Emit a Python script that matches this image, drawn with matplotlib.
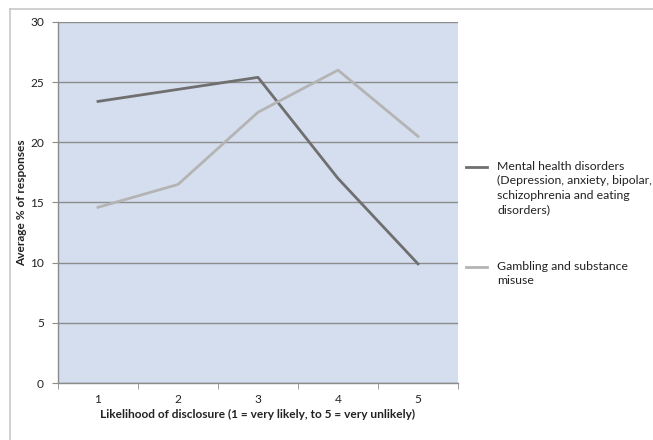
import matplotlib.pyplot as plt
from matplotlib.lines import Line2D

plt.rcParams['font.family'] = ['Lato', 'DejaVu Sans']

# likelihood levels and average % of responses
levels = [1, 2, 3, 4, 5]
mental_health = [23.4, 24.4, 25.4, 17.0, 9.9]
gambling = [14.6, 16.5, 22.5, 26.0, 20.5]

series_names = ["Mental health disorders\n(Depression, anxiety, bipolar,\nschizophrenia and eating\ndisorders)",
                "Gambling and substance\nmisuse"]
series_colors = ['#6f6f70', '#b4b4b4']

W, H = 653, 440
fig = plt.figure(figsize=(W / 100, H / 100), dpi=100)

# outer chart frame (only top and left edges visible)
frame_col = '#c8c8c8'
fig.add_artist(Line2D([10 / W, 10 / W], [0, 1 - 9 / H], color=frame_col, lw=1.2))
fig.add_artist(Line2D([10 / W, 1], [1 - 9 / H, 1 - 9 / H], color=frame_col, lw=1.2))

ax = fig.add_axes([58 / W, 57 / H, 400 / W, 361 / H])
ax.set_facecolor('#d5deee')
ax.plot(levels, mental_health, color=series_colors[0], lw=2.0, zorder=3)
ax.plot(levels, gambling, color=series_colors[1], lw=2.0, zorder=3)

ax.set_xlim(0.5, 5.5)
ax.set_ylim(0, 30)
ax.set_yticks(range(0, 31, 5))
ax.set_xticks(levels)
ax.set_xticks([0.5, 1.5, 2.5, 3.5, 4.5, 5.5], minor=True)
ax.tick_params(axis='x', which='major', length=0, pad=8, labelsize=8.6, colors='#222222')
ax.tick_params(axis='x', which='minor', length=4, color='#8c8c8c', direction='out')
ax.tick_params(axis='y', length=4, color='#8c8c8c', labelsize=8.6,
               labelcolor='#222222', pad=6)

ax.grid(axis='y', color='#8c8c8c', lw=1.0, zorder=1)
ax.set_axisbelow(True)
for side in ['top', 'right']:
    ax.spines[side].set_visible(False)
for side in ['left', 'bottom']:
    ax.spines[side].set_color('#8c8c8c')
    ax.spines[side].set_linewidth(1.0)

ax.set_xlabel("Likelihood of disclosure (1 = very likely, to 5 = very unlikely)",
              fontsize=8.6, fontweight='bold', color='#222222', labelpad=3)
ax.set_ylabel("Average % of responses", fontsize=8.6, fontweight='bold',
              color='#222222', labelpad=2)

# legend: key line sits beside the first line of each entry
for i, (name, col) in enumerate(zip(series_names, series_colors)):
    y = 1 - (167 + 100 * i) / H
    fig.add_artist(Line2D([466 / W, 487 / W], [y, y], color=col, lw=2.0))
    fig.text(497 / W, y + 6 / H, name, fontsize=8.8, color='#222222', va='top',
             linespacing=1.38, transform=fig.transFigure)

fig.savefig('out.png', dpi=100, facecolor='white')
